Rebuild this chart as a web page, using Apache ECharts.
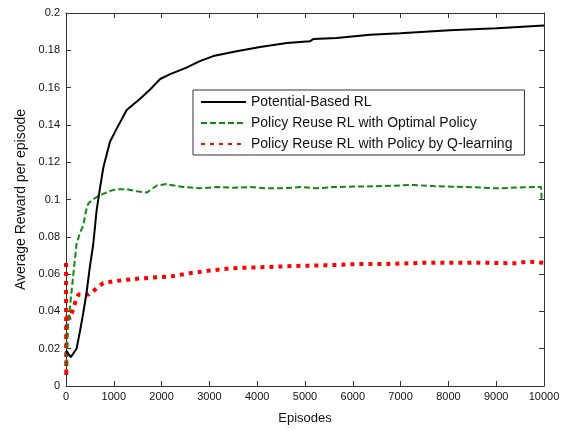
<!DOCTYPE html>
<html>
<head>
<meta charset="utf-8">
<script src="https://cdn.jsdelivr.net/npm/echarts@6/dist/echarts.min.js"></script>
<style>
    html, body { margin: 0; padding: 0; background: #fff; }
    #chart { width: 570px; height: 430px; }
</style>
</head>
<body>
<div id="chart"></div>
<script>
// values
var seriesNames = ['Potential-Based RL', 'Policy Reuse RL with Optimal Policy', 'Policy Reuse RL with Policy by Q-learning'];

var pbEpisodes = [0, 20, 100, 220, 290, 360, 430, 500, 570, 640, 710, 780, 920, 1060, 1270, 1550, 1760, 1970, 2180, 2520, 2800, 3080, 3570, 4060, 4620, 5100, 5180, 5660, 6360, 6990, 8030, 9010, 10000];
var pbReward = [0.019, 0.018, 0.0155, 0.020, 0.029, 0.039, 0.050, 0.064, 0.076, 0.094, 0.106, 0.117, 0.131, 0.138, 0.148, 0.154, 0.159, 0.1646, 0.1672, 0.1707, 0.1742, 0.1769, 0.1795, 0.1818, 0.1839, 0.1848, 0.1861, 0.1866, 0.1884, 0.1892, 0.1908, 0.1918, 0.1933];

var optEpisodes = [0, 30, 85, 150, 220, 290, 360, 420, 470, 570, 680, 780, 920, 1060, 1270, 1480, 1690, 1900, 2100, 2310, 2450, 2800, 3150, 3500, 3850, 4200, 4550, 4900, 5240, 5590, 6640, 7270, 7680, 8380, 9010, 9780, 9940, 9950, 10000];
var optReward = [0.011, 0.029, 0.043, 0.059, 0.076, 0.082, 0.086, 0.094, 0.098, 0.100, 0.102, 0.103, 0.1046, 0.1055, 0.1055, 0.1044, 0.1037, 0.1075, 0.1083, 0.1072, 0.1067, 0.106, 0.1067, 0.1063, 0.1067, 0.106, 0.106, 0.1067, 0.106, 0.1067, 0.1072, 0.1078, 0.1072, 0.1067, 0.106, 0.1067, 0.1067, 0.1002, 0.1002];

var qlEpisodes = [0, 5, 15, 30, 70, 120, 190, 260, 360, 470, 570, 680, 780, 990, 1270, 1620, 1970, 2180, 2590, 3010, 3430, 3850, 4410, 4830, 5240, 5660, 6080, 6640, 7550, 8720, 9430, 9640, 10000];
var qlReward = [0.066, 0.005, 0.030, 0.039, 0.036, 0.039, 0.0446, 0.049, 0.049, 0.049, 0.0508, 0.0534, 0.0552, 0.0561, 0.057, 0.0578, 0.0584, 0.0587, 0.0605, 0.0619, 0.0631, 0.0635, 0.064, 0.0644, 0.0646, 0.0649, 0.0654, 0.0654, 0.0661, 0.0661, 0.0658, 0.0667, 0.0661];

function pairs(xs, ys) {
    return xs.map(function (x, i) { return [x, ys[i]]; });
}

var font = 'Liberation Sans';
var axisColor = '#333';

var boxAxis = {
    axisLine: { show: true, onZero: false, lineStyle: { color: axisColor, width: 1 } },
    axisTick: { show: true, inside: true, length: 5, lineStyle: { color: axisColor } },
    splitLine: { show: false }
};

var option = {
    backgroundColor: '#fff',
    animation: false,
    grid: { left: 66, right: 26, top: 13, bottom: 39 },
    legend: {
        orient: 'vertical',
        left: 193,
        top: 90,
        padding: [5, 12, 4, 7],
        itemWidth: 45,
        itemHeight: 14,
        itemGap: 7,
        borderColor: '#333',
        borderWidth: 1,
        backgroundColor: '#fff',
        itemStyle: { opacity: 0 },
        textStyle: { fontFamily: font, fontSize: 14, color: '#111' },
        data: seriesNames
    },
    xAxis: [Object.assign({
        type: 'value', min: 0, max: 10000, interval: 1000,
        name: 'Episodes', nameLocation: 'middle', nameGap: 26,
        nameTextStyle: { fontFamily: font, fontSize: 13, color: '#111' },
        axisLabel: {
            fontFamily: font, fontSize: 11, color: '#111', margin: 5,
            formatter: function (v) { return String(v); }
        }
    }, boxAxis), Object.assign({
        type: 'value', min: 0, max: 10000, interval: 1000, position: 'top',
        axisLabel: { show: false }
    }, boxAxis)],
    yAxis: [Object.assign({
        type: 'value', min: 0, max: 0.2, interval: 0.02,
        name: 'Average Reward per episode', nameLocation: 'middle', nameGap: 38,
        nameTextStyle: { fontFamily: font, fontSize: 14, color: '#111' },
        axisLabel: {
            fontFamily: font, fontSize: 11, color: '#111', margin: 6,
            formatter: function (v) { return String(+v.toFixed(2)); }
        }
    }, boxAxis), Object.assign({
        type: 'value', min: 0, max: 0.2, interval: 0.02, position: 'right',
        axisLabel: { show: false }
    }, boxAxis)],
    series: [{
        name: seriesNames[0],
        type: 'line',
        symbol: 'none',
        color: '#000',
        lineStyle: { color: '#000', width: 2 },
        data: pairs(pbEpisodes, pbReward),
        z: 3
    }, {
        name: seriesNames[1],
        type: 'line',
        symbol: 'none',
        color: '#118811',
        lineStyle: { color: '#118811', width: 2, type: [6, 3] },
        data: pairs(optEpisodes, optReward),
        z: 2
    }, {
        name: seriesNames[2],
        type: 'line',
        symbol: 'none',
        color: '#ff0000',
        lineStyle: { color: '#ff0000', width: 4, type: [4, 5] },
        data: pairs(qlEpisodes, qlReward),
        z: 1
    }]
};

var myChart = echarts.init(document.getElementById('chart'));
myChart.setOption(option);
</script>
</body>
</html>
